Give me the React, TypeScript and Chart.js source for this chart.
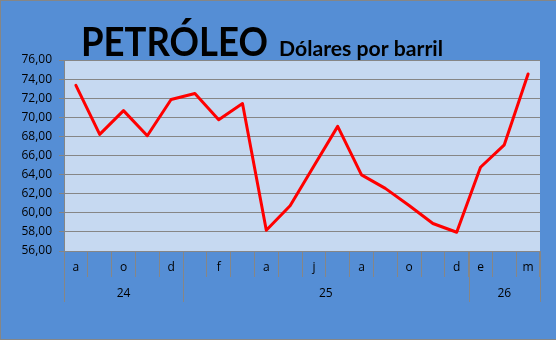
import React, { useEffect, useRef } from "react";
import { Chart, registerables } from "chart.js";

Chart.register(...registerables);

// Category ticks (month initials shown on the axis, blanks where Excel skipped)
const monthTickLabels = ["a", "", "o", "", "d", "", "f", "", "a", "", "j", "", "a", "", "o", "", "d", "e", "", "m"];
// Year groups: label and number of months in each
const yearLabels = ["24", "25", "26"];
const yearCounts = [5, 12, 3];
// Oil price, USD per barrel
const prices = [73.34, 68.21, 70.7, 68.07, 71.86, 72.5, 69.75, 71.44, 58.18, 60.74, 64.9, 69.05, 63.97, 62.56, 60.77, 58.88, 57.96, 64.77, 67.12, 74.53];
const yMin = 56;
const yMax = 76;
const yStep = 2;
const titleMain = "PETRÓLEO";
const titleSub = "Dólares por barril";

const BG = "#558ED5";
const PLOT_BG = "#C6D9F1";
const GRID = "#868686";
const FONT = '"Open Sans", "DejaVu Sans", sans-serif';
const TITLE_FONT = 'Lato, "Open Sans", sans-serif';

const decorPlugin = {
  id: "decor",
  beforeDraw(chart: any) {
    const { ctx, width, height, chartArea } = chart;
    ctx.save();
    ctx.fillStyle = BG;
    ctx.fillRect(0, 0, width, height);
    ctx.fillStyle = GRID;
    ctx.fillRect(0, 0, width, 1);
    ctx.fillRect(0, 0, 1, height);
    ctx.fillRect(0, height - 1, width, 1);
    ctx.fillStyle = PLOT_BG;
    ctx.fillRect(chartArea.left, chartArea.top, chartArea.right - chartArea.left, chartArea.bottom - chartArea.top);
    ctx.restore();
  },
  afterDraw(chart: any) {
    const { ctx, chartArea } = chart;
    const xs = chart.scales.x;
    const bottomY = chartArea.bottom + 51;
    ctx.save();
    // long separators between year groups
    ctx.strokeStyle = GRID;
    ctx.lineWidth = 1;
    const half = (xs.getPixelForValue(1) - xs.getPixelForValue(0)) / 2;
    let idx = 0;
    const bounds: number[] = [xs.getPixelForValue(0) - half];
    yearCounts.forEach((c) => {
      idx += c;
      bounds.push(xs.getPixelForValue(idx - 1) + half);
    });
    bounds.forEach((b) => {
      const px = Math.round(b) + 0.5;
      ctx.beginPath();
      ctx.moveTo(px, chartArea.bottom);
      ctx.lineTo(px, bottomY);
      ctx.stroke();
    });
    // year labels
    ctx.fillStyle = "#000";
    ctx.font = "12px " + FONT;
    ctx.textAlign = "center";
    ctx.textBaseline = "middle";
    yearLabels.forEach((l, i) => {
      ctx.fillText(l, (bounds[i] + bounds[i + 1]) / 2, chartArea.bottom + 43);
    });
    // title
    ctx.textAlign = "left";
    ctx.textBaseline = "alphabetic";
    ctx.font = "bold 41px " + TITLE_FONT;
    let w = ctx.measureText(titleMain).width;
    ctx.save();
    ctx.translate(81, 56);
    ctx.scale(187 / w, 1);
    ctx.fillText(titleMain, 0, 0);
    ctx.restore();
    ctx.font = "bold 21px " + TITLE_FONT;
    w = ctx.measureText(titleSub).width;
    ctx.save();
    ctx.translate(279, 56);
    ctx.scale(164 / w, 1);
    ctx.fillText(titleSub, 0, 0);
    ctx.restore();
    ctx.restore();
  },
};

export default function App() {
  const ref = useRef<HTMLCanvasElement>(null);
  useEffect(() => {
    if (!ref.current) return;
    const chart = new Chart(ref.current, {
      type: "line",
      data: {
        labels: monthTickLabels,
        datasets: [
          {
            data: prices,
            borderColor: "#FF0000",
            borderWidth: 3,
            pointRadius: 0,
            tension: 0,
            borderJoinStyle: "round",
            borderCapStyle: "round",
          },
        ],
      },
      options: {
        animation: false,
        responsive: true,
        maintainAspectRatio: false,
        layout: { padding: { top: 60, right: 16, bottom: 37, left: 0 } },
        plugins: { legend: { display: false }, title: { display: false }, tooltip: { enabled: false } },
        scales: {
          x: {
            offset: true,
            afterFit: (s: any) => {
              s.height = 52;
            },
            grid: { drawOnChartArea: false, offset: true, tickLength: 26, color: GRID, lineWidth: 1 },
            border: { display: true, color: GRID },
            ticks: {
              autoSkip: false,
              maxRotation: 0,
              minRotation: 0,
              padding: -17,
              color: "#000",
              font: { family: FONT, size: 12 },
            },
          },
          y: {
            min: yMin,
            max: yMax,
            afterFit: (s: any) => {
              s.width = 64;
            },
            grid: { color: GRID, lineWidth: 1, tickLength: 5 },
            border: { display: true, color: GRID },
            ticks: {
              stepSize: yStep,
              padding: 7,
              color: "#000",
              font: { family: FONT, size: 12 },
              callback: (v: any) => Number(v).toFixed(2).replace(".", ","),
            },
          },
        },
      },
      plugins: [decorPlugin],
    });
    return () => chart.destroy();
  }, []);
  return (
    <div style={{ position: "fixed", left: 0, top: 0, width: 556, height: 340 }}>
      <canvas ref={ref} />
    </div>
  );
}
